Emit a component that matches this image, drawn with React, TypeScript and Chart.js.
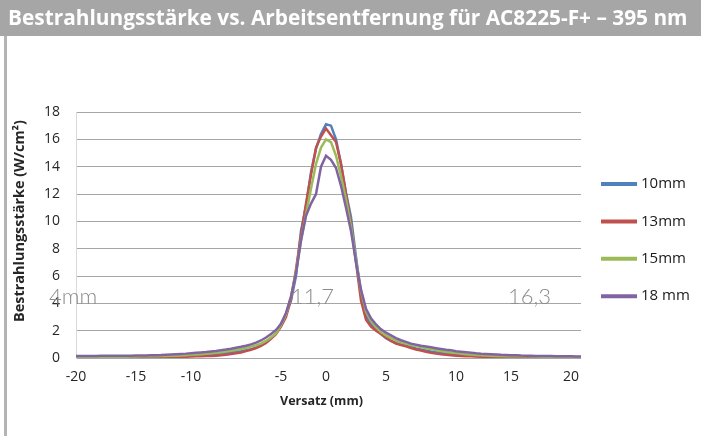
import React, { useEffect, useRef } from "react";
import { Chart, registerables } from "chart.js";

Chart.register(...registerables);

const titleText = "Bestrahlungsstärke vs. Arbeitsentfernung für AC8225-F+ – 395 nm";
const yAxisTitle = "Bestrahlungsstärke (W/cm²)";
const xAxisTitle = "Versatz (mm)";

const seriesNames = ["10mm", "13mm", "15mm", "18 mm"];
const seriesColors = ["#4f81bd", "#c0504d", "#9bbb59", "#8064a2"];

// x axis: measurement samples (category axis), with labels shown at these samples
const sampleCount = 102;
const xTickLabels = ["-20", "-15", "-10", "-5", "0", "5", "10", "15", "20"];
const xTickSampleIndex = [0, 12, 23, 41, 50, 62, 76, 87, 99];

const yMin = 0;
const yMax = 18;
const yStep = 2;

const annotationLabels = ["4mm", "11,7", "16,3"];

const irr10mm = [
  0.05, 0.05, 0.06, 0.05, 0.06, 0.06, 0.07, 0.06, 0.07, 0.08,
  0.08, 0.08, 0.09, 0.1, 0.1, 0.11, 0.12, 0.13, 0.14, 0.15,
  0.16, 0.17, 0.19, 0.2, 0.22, 0.24, 0.26, 0.28, 0.3, 0.33,
  0.36, 0.4, 0.45, 0.5, 0.57, 0.65, 0.75, 0.95, 1.15, 1.45,
  1.8, 2.5, 3.2, 4.2, 6.0, 9.3, 11.1, 13.6, 15.3, 16.4,
  17.1, 17.0, 16.0, 14.2, 12.1, 10.3, 7.4, 4.6, 3.1, 2.5,
  2.1, 1.75, 1.45, 1.25, 1.1, 1.0, 0.9, 0.8, 0.7, 0.62,
  0.55, 0.48, 0.42, 0.37, 0.32, 0.28, 0.25, 0.22, 0.19, 0.17,
  0.15, 0.13, 0.12, 0.11, 0.1, 0.09, 0.08, 0.08, 0.07, 0.07,
  0.07, 0.06, 0.06, 0.06, 0.05, 0.05, 0.05, 0.05, 0.04, 0.05, 0.04, 0.05,
];

const irr13mm = [
  0.03, 0.03, 0.03, 0.03, 0.03, 0.04, 0.04, 0.04, 0.04, 0.04,
  0.04, 0.05, 0.05, 0.05, 0.05, 0.05, 0.06, 0.06, 0.07, 0.07,
  0.08, 0.09, 0.1, 0.11, 0.12, 0.13, 0.14, 0.15, 0.17, 0.2,
  0.24, 0.29, 0.34, 0.4, 0.5, 0.6, 0.72, 0.88, 1.1, 1.4,
  1.75, 2.3, 3.0, 4.3, 6.5, 9.0, 11.3, 13.4, 15.4, 16.2,
  16.8, 16.3, 15.8, 14.2, 12.0, 9.8, 7.0, 4.2, 2.8, 2.3,
  2.0, 1.75, 1.5, 1.25, 1.05, 0.95, 0.85, 0.72, 0.62, 0.55,
  0.45, 0.38, 0.32, 0.27, 0.23, 0.2, 0.17, 0.15, 0.13, 0.12,
  0.11, 0.1, 0.1, 0.09, 0.08, 0.08, 0.07, 0.07, 0.07, 0.06,
  0.06, 0.06, 0.05, 0.05, 0.05, 0.05, 0.05, 0.04, 0.04, 0.04, 0.04, 0.04,
];

const irr15mm = [
  0.08, 0.08, 0.08, 0.09, 0.09, 0.09, 0.1, 0.1, 0.1, 0.1,
  0.1, 0.11, 0.11, 0.12, 0.12, 0.13, 0.13, 0.14, 0.15, 0.16,
  0.17, 0.19, 0.21, 0.23, 0.25, 0.28, 0.31, 0.34, 0.38, 0.42,
  0.47, 0.53, 0.59, 0.66, 0.74, 0.83, 0.93, 1.05, 1.25, 1.5,
  1.8, 2.4, 3.2, 4.5, 6.3, 8.6, 10.5, 12.4, 14.2, 15.4,
  16.0, 15.8, 14.8, 13.3, 11.6, 9.6, 7.2, 4.9, 3.4, 2.7,
  2.25, 1.9, 1.65, 1.45, 1.3, 1.15, 1.05, 0.95, 0.87, 0.8,
  0.72, 0.65, 0.58, 0.52, 0.46, 0.41, 0.36, 0.32, 0.28, 0.25,
  0.22, 0.2, 0.18, 0.16, 0.15, 0.14, 0.13, 0.13, 0.14, 0.13,
  0.12, 0.12, 0.11, 0.1, 0.1, 0.1, 0.09, 0.09, 0.09, 0.08, 0.08, 0.08,
];

const irr18mm = [
  0.15, 0.15, 0.15, 0.15, 0.15, 0.16, 0.16, 0.16, 0.16, 0.17,
  0.17, 0.17, 0.18, 0.18, 0.19, 0.2, 0.21, 0.22, 0.24, 0.26,
  0.28, 0.3, 0.32, 0.35, 0.38, 0.41, 0.44, 0.48, 0.52, 0.57,
  0.62, 0.68, 0.75, 0.82, 0.9, 1.0, 1.12, 1.28, 1.5, 1.75,
  2.05, 2.5, 3.3, 4.5, 6.2, 8.6, 10.4, 11.3, 12.0, 14.0,
  14.8, 14.5, 13.9, 12.6, 11.0, 9.3, 7.0, 5.0, 3.6, 2.9,
  2.45, 2.1, 1.85, 1.65, 1.45, 1.3, 1.18, 1.05, 0.98, 0.9,
  0.84, 0.78, 0.72, 0.66, 0.6, 0.56, 0.5, 0.46, 0.42, 0.38,
  0.34, 0.31, 0.29, 0.27, 0.25, 0.23, 0.22, 0.21, 0.2, 0.18,
  0.17, 0.16, 0.15, 0.15, 0.14, 0.14, 0.13, 0.13, 0.12, 0.12, 0.11, 0.11,
];

const seriesValues = [irr10mm, irr13mm, irr15mm, irr18mm];

const categories: string[] = Array.from({ length: sampleCount }, (_, i) => {
  const k = xTickSampleIndex.indexOf(i);
  return k >= 0 ? xTickLabels[k] : "";
});

const W = 701;
const H = 436;

function fitFont(ctx: CanvasRenderingContext2D, text: string, weight: string, family: string, target: number) {
  ctx.font = `${weight} 20px ${family}`;
  const w = ctx.measureText(text).width;
  const size = (20 * target) / w;
  return `${weight} ${size.toFixed(2)}px ${family}`;
}

const decorPlugin = {
  id: "decor",
  beforeDraw(chart: any) {
    const ctx = chart.ctx as CanvasRenderingContext2D;
    ctx.save();
    ctx.fillStyle = "#ffffff";
    ctx.fillRect(0, 0, W, H);
    ctx.fillStyle = "#a6a6a6";
    ctx.fillRect(0, 0, W, 36);
    ctx.fillStyle = "#b4b4b4";
    ctx.fillRect(4, 36, 3, H - 36);
    ctx.restore();
  },
  afterDraw(chart: any) {
    const ctx = chart.ctx as CanvasRenderingContext2D;
    const yScale = chart.scales.y;
    ctx.save();
    // header title
    ctx.fillStyle = "#ffffff";
    ctx.textAlign = "left";
    ctx.textBaseline = "alphabetic";
    ctx.font = fitFont(ctx, titleText, "bold", '"Open Sans"', 680);
    ctx.fillText(titleText, 8, 25);

    // y axis title
    ctx.fillStyle = "#262626";
    ctx.font = fitFont(ctx, yAxisTitle, "bold", '"Open Sans"', 202);
    ctx.translate(20, 221);
    ctx.rotate(-Math.PI / 2);
    ctx.textAlign = "center";
    ctx.textBaseline = "middle";
    ctx.fillText(yAxisTitle, 0, 0);
    ctx.setTransform(1, 0, 0, 1, 0, 0);

    // x axis title
    ctx.font = fitFont(ctx, xAxisTitle, "bold", '"Open Sans"', 83);
    ctx.textAlign = "center";
    ctx.textBaseline = "middle";
    ctx.fillText(xAxisTitle, 321.5, 401);

    // legend
    const legendY0 = 184;
    const legendStep = 37.4;
    seriesNames.forEach((name, i) => {
      const y = legendY0 + i * legendStep;
      ctx.strokeStyle = seriesColors[i];
      ctx.lineWidth = 4;
      ctx.beginPath();
      ctx.moveTo(601, y);
      ctx.lineTo(637, y);
      ctx.stroke();
      ctx.fillStyle = "#1a1a1a";
      ctx.font = '15px "Open Sans"';
      ctx.textAlign = "left";
      ctx.textBaseline = "middle";
      ctx.fillText(name, 641, y);
    });

    // in-plot annotations
    const baseY = yScale.getPixelForValue(4) + 1;
    ctx.fillStyle = "#8c8c8c";
    ctx.font = '300 22px "Lato"';
    ctx.textAlign = "left";
    ctx.textBaseline = "alphabetic";
    const annX = [49, 291, 508];
    annotationLabels.forEach((t, i) => ctx.fillText(t, annX[i], baseY));
    ctx.restore();
  },
};

export default function App() {
  const ref = useRef<HTMLCanvasElement | null>(null);
  useEffect(() => {
    if (!ref.current) return;
    const tickFont = { family: '"Open Sans"', size: 14 };
    const chart = new Chart(ref.current, {
      type: "line",
      data: {
        labels: categories,
        datasets: seriesNames.map((name, i) => ({
          label: name,
          data: seriesValues[i],
          borderColor: seriesColors[i],
          backgroundColor: seriesColors[i],
          borderWidth: 2.5,
          pointRadius: 0,
          tension: 0,
          fill: false,
          order: 3 - i,
        })),
      },
      options: {
        responsive: false,
        animation: false,
        devicePixelRatio: 1,
        layout: { padding: { top: 112, right: 120, bottom: 0, left: 0 } },
        plugins: {
          legend: { display: false },
          title: { display: false },
          tooltip: { enabled: false },
        },
        scales: {
          x: {
            type: "category",
            offset: false,
            grid: { display: false, drawTicks: false },
            border: { display: false },
            ticks: {
              autoSkip: false,
              maxRotation: 0,
              minRotation: 0,
              padding: 11,
              color: "#262626",
              font: tickFont,
            },
            afterFit: (s: any) => {
              s.height = 78;
            },
          },
          y: {
            min: yMin,
            max: yMax,
            ticks: { stepSize: yStep, padding: 16, color: "#262626", font: tickFont },
            grid: { color: "#a6a6a6", lineWidth: 1, drawTicks: false },
            border: { color: "#d9d9d9", width: 1 },
            afterFit: (s: any) => {
              s.width = 76;
            },
          },
        },
      },
      plugins: [decorPlugin],
    } as any);
    return () => chart.destroy();
  }, []);
  return (
    <div style={{ position: "fixed", left: 0, top: 0, width: W, height: H, background: "#fff" }}>
      <canvas ref={ref} width={W} height={H} style={{ display: "block", width: W, height: H }} />
    </div>
  );
}
